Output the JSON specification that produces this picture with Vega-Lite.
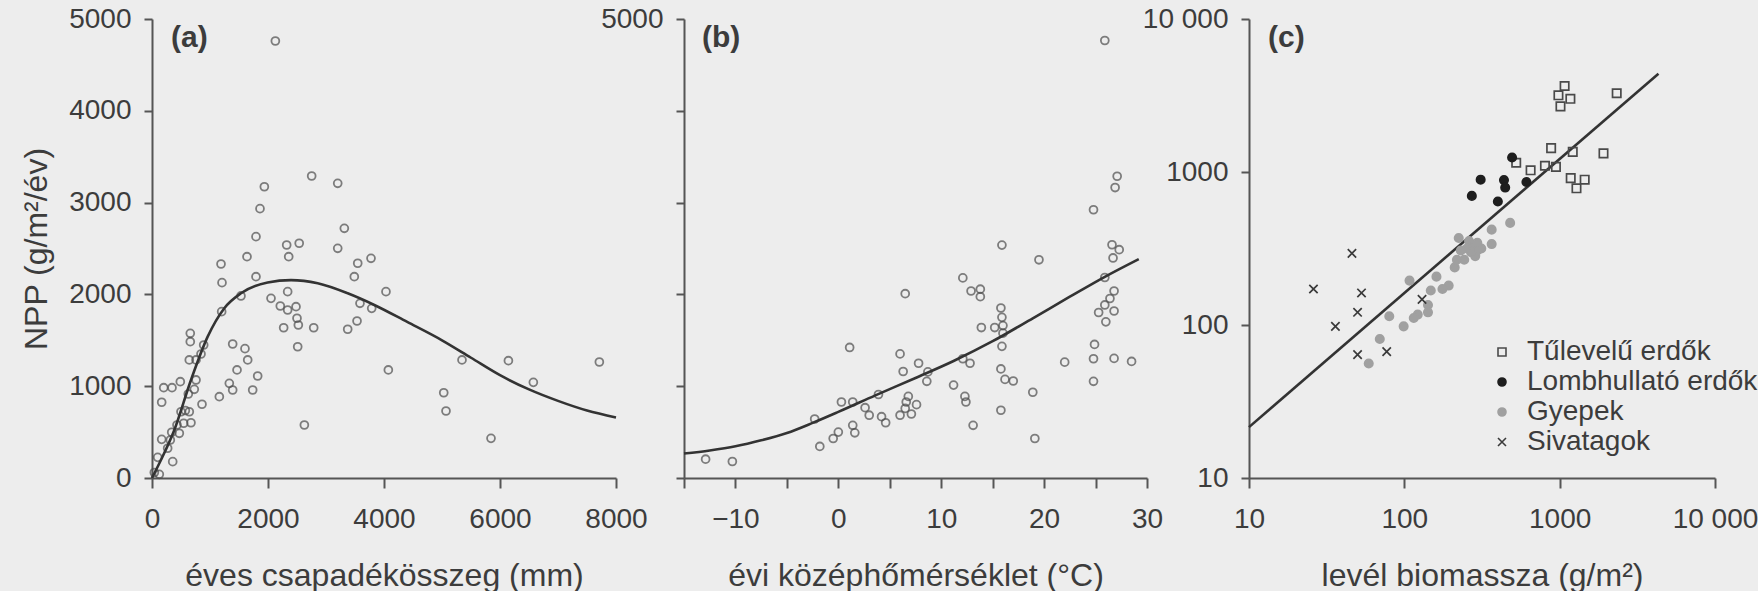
{
 "$schema": "https://vega.github.io/schema/vega-lite/v6.json",
 "background": "#ededed",
 "padding": {"left": 20, "top": 5, "right": 0, "bottom": 0},
 "bounds": "flush",
 "spacing": 0,
 "config": {
  "font": "Liberation Sans",
  "view": {"stroke": null},
  "axis": {"grid": false, "domainColor": "#555555", "domainWidth": 2, "tickColor": "#555555", "tickWidth": 2, "labelColor": "#3c3c3c", "titleColor": "#3c3c3c", "labelFontSize": 28, "titleFontSize": 32, "titleFontWeight": "normal", "labelFlush": false, "labelOverlap": false},
  "axisX": {"tickSize": 10, "labelPadding": 17, "titlePadding": 27, "minExtent": 55, "maxExtent": 55, "labelAngle": 0},
  "axisY": {"tickSize": 8, "labelPadding": 13, "titlePadding": 15, "minExtent": 84, "maxExtent": 84}
 },
 "datasets": {
  "a": [
   {"precip":2127,"npp":4760},{"precip":2753,"npp":3290},{"precip":3202,"npp":3210},{"precip":1937,"npp":3173},{"precip":1862,"npp":2934},{"precip":3316,"npp":2720},{"precip":1793,"npp":2629},{"precip":2322,"npp":2538},{"precip":2538,"npp":2557},{"precip":3202,"npp":2502},{"precip":1638,"npp":2411},{"precip":2357,"npp":2411},{"precip":1190,"npp":2331},{"precip":3547,"npp":2339},{"precip":3776,"npp":2393},
   {"precip":1207,"npp":2128},{"precip":1793,"npp":2193},{"precip":3488,"npp":2193},{"precip":1534,"npp":1983},{"precip":2052,"npp":1957},{"precip":2339,"npp":2030},{"precip":2212,"npp":1874},{"precip":2339,"npp":1830},{"precip":2483,"npp":1866},{"precip":2500,"npp":1740},{"precip":2523,"npp":1667},{"precip":2270,"npp":1637},{"precip":2788,"npp":1637},{"precip":2512,"npp":1430},{"precip":3374,"npp":1620},{"precip":3535,"npp":1710},{"precip":3586,"npp":1903},{"precip":3788,"npp":1848},{"precip":4034,"npp":2030},{"precip":1201,"npp":1812},{"precip":1391,"npp":1460},{"precip":1603,"npp":1409},{"precip":1650,"npp":1286},{"precip":1466,"npp":1177},{"precip":1822,"npp":1111},{"precip":1333,"npp":1031},{"precip":1391,"npp":959},{"precip":1736,"npp":959},{"precip":1161,"npp":886},{"precip":862,"npp":803},{"precip":660,"npp":1576},{"precip":660,"npp":1485},{"precip":891,"npp":1449},{"precip":845,"npp":1351},{"precip":643,"npp":1286},{"precip":759,"npp":1286},{"precip":759,"npp":1068},{"precip":729,"npp":966},{"precip":626,"npp":915},{"precip":488,"npp":1049},{"precip":202,"npp":984},{"precip":345,"npp":984},{"precip":167,"npp":825},{"precip":643,"npp":722},{"precip":500,"npp":722},{"precip":575,"npp":735},{"precip":672,"npp":602},{"precip":546,"npp":596},{"precip":431,"npp":577},{"precip":471,"npp":487},{"precip":340,"npp":498},{"precip":167,"npp":421},{"precip":316,"npp":414},{"precip":270,"npp":324},{"precip":357,"npp":178},{"precip":98,"npp":225},{"precip":126,"npp":40},{"precip":40,"npp":60},{"precip":2627,"npp":577},{"precip":4075,"npp":1177},{"precip":5030,"npp":929},{"precip":5069,"npp":730},{"precip":5345,"npp":1286},{"precip":6145,"npp":1278},{"precip":6575,"npp":1042},{"precip":7713,"npp":1264},{"precip":5845,"npp":432}
  ],
  "aCurve": [
   {"precip":0,"npp":0},{"precip":150,"npp":190},{"precip":385,"npp":523},{"precip":672,"npp":1068},{"precip":960,"npp":1540},{"precip":1247,"npp":1850},{"precip":1534,"npp":2012},{"precip":1994,"npp":2130},{"precip":2397,"npp":2155},{"precip":2857,"npp":2121},{"precip":3374,"npp":2012},{"precip":3833,"npp":1885},{"precip":4400,"npp":1700},{"precip":5000,"npp":1500},{"precip":5500,"npp":1310},{"precip":6000,"npp":1120},{"precip":6500,"npp":965},{"precip":7000,"npp":840},{"precip":7500,"npp":735},{"precip":8000,"npp":660}
  ],
  "b": [
   {"temp":25.9,"npp":4766},{"temp":27.1,"npp":3287},{"temp":26.9,"npp":3164},{"temp":24.8,"npp":2922},{"temp":15.9,"npp":2537},{"temp":19.5,"npp":2377},{"temp":26.6,"npp":2541},{"temp":27.3,"npp":2487},{"temp":26.7,"npp":2397},{"temp":25.9,"npp":2184},{"temp":12.1,"npp":2180},{"temp":12.9,"npp":2037},{"temp":13.8,"npp":2057},{"temp":13.8,"npp":1975},{"temp":6.5,"npp":2008},{"temp":26.8,"npp":2037},{"temp":26.4,"npp":1955},{"temp":25.9,"npp":1885},{"temp":25.3,"npp":1803},{"temp":26.8,"npp":1819},{"temp":26.0,"npp":1701},{"temp":15.8,"npp":1852},{"temp":15.9,"npp":1750},{"temp":15.2,"npp":1639},{"temp":16.0,"npp":1660},{"temp":16.0,"npp":1578},{"temp":13.9,"npp":1639},{"temp":15.9,"npp":1434},{"temp":24.9,"npp":1455},{"temp":1.1,"npp":1422},{"temp":6.0,"npp":1352},{"temp":24.8,"npp":1299},{"temp":26.8,"npp":1303},{"temp":22.0,"npp":1262},{"temp":28.5,"npp":1270},{"temp":12.1,"npp":1299},{"temp":12.8,"npp":1250},{"temp":7.8,"npp":1250},{"temp":6.3,"npp":1160},{"temp":8.7,"npp":1156},{"temp":8.6,"npp":1053},{"temp":15.8,"npp":1188},{"temp":16.2,"npp":1074},{"temp":17.0,"npp":1057},{"temp":24.8,"npp":1053},{"temp":11.2,"npp":1012},{"temp":3.9,"npp":910},{"temp":12.3,"npp":889},{"temp":12.4,"npp":828},{"temp":18.9,"npp":934},{"temp":6.8,"npp":889},{"temp":6.6,"npp":828},{"temp":7.6,"npp":799},{"temp":6.5,"npp":758},{"temp":7.1,"npp":697},{"temp":6.0,"npp":684},{"temp":0.3,"npp":828},{"temp":1.4,"npp":828},{"temp":2.6,"npp":766},{"temp":3.0,"npp":684},{"temp":4.2,"npp":668},{"temp":4.6,"npp":602},{"temp":-2.3,"npp":643},{"temp":15.8,"npp":738},{"temp":13.1,"npp":574},{"temp":1.4,"npp":574},{"temp":1.6,"npp":492},{"temp":0.0,"npp":500},{"temp":-0.5,"npp":430},{"temp":-1.8,"npp":344},{"temp":19.1,"npp":430},{"temp":-12.9,"npp":205},{"temp":-10.3,"npp":180}
  ],
  "bCurve": [
   {"temp":-15,"npp":266},{"temp":-12.5,"npp":300},{"temp":-10,"npp":345},{"temp":-7.5,"npp":410},{"temp":-5,"npp":490},{"temp":-2.5,"npp":600},{"temp":0,"npp":720},{"temp":3.6,"npp":900},{"temp":7.5,"npp":1090},{"temp":11.2,"npp":1275},{"temp":15,"npp":1490},{"temp":18.9,"npp":1740},{"temp":22.5,"npp":1975},{"temp":25.9,"npp":2192},{"temp":29.2,"npp":2385}
  ],
  "c": [
   {"leaf":1076,"npp":3648,"type":"Tűlevelű erdők"},{"leaf":982,"npp":3170,"type":"Tűlevelű erdők"},{"leaf":1172,"npp":3008,"type":"Tűlevelű erdők"},{"leaf":1012,"npp":2684,"type":"Tűlevelű erdők"},{"leaf":2329,"npp":3273,"type":"Tűlevelű erdők"},{"leaf":881,"npp":1432,"type":"Tűlevelű erdők"},{"leaf":1214,"npp":1354,"type":"Tűlevelű erdők"},{"leaf":1915,"npp":1324,"type":"Tűlevelű erdők"},{"leaf":525,"npp":1149,"type":"Tűlevelű erdők"},{"leaf":650,"npp":1026,"type":"Tűlevelű erdők"},{"leaf":804,"npp":1099,"type":"Tűlevelű erdők"},{"leaf":946,"npp":1080,"type":"Tűlevelű erdők"},{"leaf":1178,"npp":912,"type":"Tűlevelű erdők"},{"leaf":1449,"npp":891,"type":"Tűlevelű erdők"},{"leaf":1283,"npp":782,"type":"Tűlevelű erdők"},
   {"leaf":494,"npp":1244,"type":"Lombhullató erdők"},{"leaf":310,"npp":891,"type":"Lombhullató erdők"},{"leaf":272,"npp":698,"type":"Lombhullató erdők"},{"leaf":438,"npp":885,"type":"Lombhullató erdők"},{"leaf":446,"npp":791,"type":"Lombhullató erdők"},{"leaf":400,"npp":641,"type":"Lombhullató erdők"},{"leaf":611,"npp":861,"type":"Lombhullató erdők"},
   {"leaf":480,"npp":465,"type":"Gyepek"},{"leaf":365,"npp":420,"type":"Gyepek"},{"leaf":365,"npp":338,"type":"Gyepek"},{"leaf":224,"npp":370,"type":"Gyepek"},{"leaf":261,"npp":354,"type":"Gyepek"},{"leaf":277,"npp":325,"type":"Gyepek"},{"leaf":295,"npp":307,"type":"Gyepek"},{"leaf":253,"npp":316,"type":"Gyepek"},{"leaf":286,"npp":282,"type":"Gyepek"},{"leaf":231,"npp":307,"type":"Gyepek"},{"leaf":243,"npp":267,"type":"Gyepek"},{"leaf":218,"npp":267,"type":"Gyepek"},{"leaf":211,"npp":238,"type":"Gyepek"},{"leaf":295,"npp":344,"type":"Gyepek"},{"leaf":313,"npp":316,"type":"Gyepek"},{"leaf":269,"npp":299,"type":"Gyepek"},{"leaf":108,"npp":195,"type":"Gyepek"},{"leaf":161,"npp":207,"type":"Gyepek"},{"leaf":193,"npp":181,"type":"Gyepek"},{"leaf":176,"npp":172,"type":"Gyepek"},{"leaf":148,"npp":168,"type":"Gyepek"},{"leaf":142,"npp":135,"type":"Gyepek"},{"leaf":142,"npp":121,"type":"Gyepek"},{"leaf":122,"npp":117,"type":"Gyepek"},{"leaf":115,"npp":111,"type":"Gyepek"},{"leaf":99,"npp":98,"type":"Gyepek"},{"leaf":80,"npp":114,"type":"Gyepek"},{"leaf":69.5,"npp":81,"type":"Gyepek"},{"leaf":59,"npp":56,"type":"Gyepek"},
   {"leaf":46,"npp":294,"type":"Sivatagok"},{"leaf":26,"npp":172,"type":"Sivatagok"},{"leaf":53,"npp":162,"type":"Sivatagok"},{"leaf":50,"npp":121,"type":"Sivatagok"},{"leaf":36,"npp":98,"type":"Sivatagok"},{"leaf":50,"npp":64,"type":"Sivatagok"},{"leaf":77,"npp":67,"type":"Sivatagok"},{"leaf":130,"npp":147,"type":"Sivatagok"}
  ],
  "cLine": [{"leaf":10,"npp":21.5},{"leaf":4325,"npp":4394}]
 },
 "hconcat": [
  {
   "width": 464, "height": 459,
   "layer": [
    {"data": {"name": "a"},
     "mark": {"type": "point", "shape": "circle", "size": 62, "strokeWidth": 1.8, "color": "#4d4d4d", "filled": false},
     "encoding": {
      "x": {"field": "precip", "type": "quantitative", "scale": {"domain": [0, 8000], "nice": false, "zero": false}, "axis": {"values": [0, 2000, 4000, 6000, 8000], "format": "d", "title": "éves csapadékösszeg (mm)"}},
      "y": {"field": "npp", "type": "quantitative", "scale": {"domain": [0, 5000], "nice": false}, "axis": {"values": [0, 1000, 2000, 3000, 4000, 5000], "format": "d", "title": "NPP (g/m²/év)"}}
     }},
    {"data": {"name": "aCurve"},
     "mark": {"type": "line", "color": "#333333", "strokeWidth": 2.6, "interpolate": "monotone"},
     "encoding": {"x": {"field": "precip", "type": "quantitative"}, "y": {"field": "npp", "type": "quantitative"}}},
    {"data": {"values": [{"label": "(a)"}]},
     "mark": {"type": "text", "fontWeight": "bold", "fontSize": 30, "align": "left", "baseline": "middle", "color": "#3c3c3c"},
     "encoding": {"text": {"field": "label"}, "x": {"datum": 328}, "y": {"datum": 4793}}}
   ]
  },
  {"width": 68, "height": 459, "data": {"values": []}, "mark": "point"},
  {
   "width": 463, "height": 459,
   "layer": [
    {"data": {"name": "b"},
     "mark": {"type": "point", "shape": "circle", "size": 62, "strokeWidth": 1.8, "color": "#4d4d4d", "filled": false},
     "encoding": {
      "x": {"field": "temp", "type": "quantitative", "scale": {"domain": [-15, 30], "nice": false, "zero": false}, "axis": {"values": [-15, -10, -5, 0, 5, 10, 15, 20, 25, 30], "labelExpr": "datum.value % 10 === 0 ? format(datum.value, 'd') : ''", "title": "évi középhőmérséklet (°C)"}},
      "y": {"field": "npp", "type": "quantitative", "scale": {"domain": [0, 5000], "nice": false}, "axis": {"values": [0, 1000, 2000, 3000, 4000, 5000], "labelExpr": "datum.value === 5000 ? '5000' : ''", "title": null}}
     }},
    {"data": {"name": "bCurve"},
     "mark": {"type": "line", "color": "#333333", "strokeWidth": 2.6, "interpolate": "monotone"},
     "encoding": {"x": {"field": "temp", "type": "quantitative"}, "y": {"field": "npp", "type": "quantitative"}}},
    {"data": {"values": [{"label": "(b)"}]},
     "mark": {"type": "text", "fontWeight": "bold", "fontSize": 30, "align": "left", "baseline": "middle", "color": "#3c3c3c"},
     "encoding": {"text": {"field": "label"}, "x": {"datum": -13.25}, "y": {"datum": 4793}}}
   ]
  },
  {"width": 102, "height": 459, "data": {"values": []}, "mark": "point"},
  {
   "width": 466, "height": 459,
   "layer": [
    {"data": {"name": "cLine"},
     "mark": {"type": "line", "color": "#333333", "strokeWidth": 2.6},
     "encoding": {
      "x": {"field": "leaf", "type": "quantitative", "scale": {"type": "log", "domain": [10, 10000], "nice": false}, "axis": {"values": [10, 100, 1000, 10000], "labelExpr": "datum.value === 10000 ? '10 000' : format(datum.value, 'd')", "title": "levél biomassza (g/m²)"}},
      "y": {"field": "npp", "type": "quantitative", "scale": {"type": "log", "domain": [10, 10000], "nice": false}, "axis": {"values": [10, 100, 1000, 10000], "labelExpr": "datum.value === 10000 ? '10 000' : format(datum.value, 'd')", "title": null}}
     }},
    {"data": {"name": "c"},
     "mark": {"type": "point", "size": 70, "strokeWidth": 1.7, "opacity": 1},
     "encoding": {
      "x": {"field": "leaf", "type": "quantitative", "scale": {"type": "log", "domain": [10, 10000], "nice": false}},
      "y": {"field": "npp", "type": "quantitative", "scale": {"type": "log", "domain": [10, 10000], "nice": false}},
      "shape": {"field": "type", "type": "nominal", "scale": {"domain": ["Tűlevelű erdők", "Lombhullató erdők", "Gyepek", "Sivatagok"], "range": ["square", "circle", "circle", "M-1,-1L1,1M-1,1L1,-1"]},
       "legend": {"title": null, "orient": "none", "legendX": 1336, "legendY": 319, "labelFontSize": 28, "labelColor": "#3c3c3c", "labelLimit": 400, "symbolSize": 64, "symbolStrokeWidth": 1.6, "labelOffset": 11, "rowPadding": 2, "padding": 0}},
      "fill": {"field": "type", "type": "nominal", "scale": {"domain": ["Tűlevelű erdők", "Lombhullató erdők", "Gyepek", "Sivatagok"], "range": ["transparent", "#1e1e1e", "#a0a0a0", "transparent"]}},
      "stroke": {"field": "type", "type": "nominal", "scale": {"domain": ["Tűlevelű erdők", "Lombhullató erdők", "Gyepek", "Sivatagok"], "range": ["#4a4a4a", "#1e1e1e", "#a0a0a0", "#3a3a3a"]}}
     }},
    {"data": {"values": [{"label": "(c)"}]},
     "mark": {"type": "text", "fontWeight": "bold", "fontSize": 30, "align": "left", "baseline": "middle", "color": "#3c3c3c"},
     "encoding": {"text": {"field": "label"}, "x": {"datum": 13.25, "scale": {"type": "log"}}, "y": {"datum": 7516, "scale": {"type": "log"}}}}
   ]
  }
 ]
}
